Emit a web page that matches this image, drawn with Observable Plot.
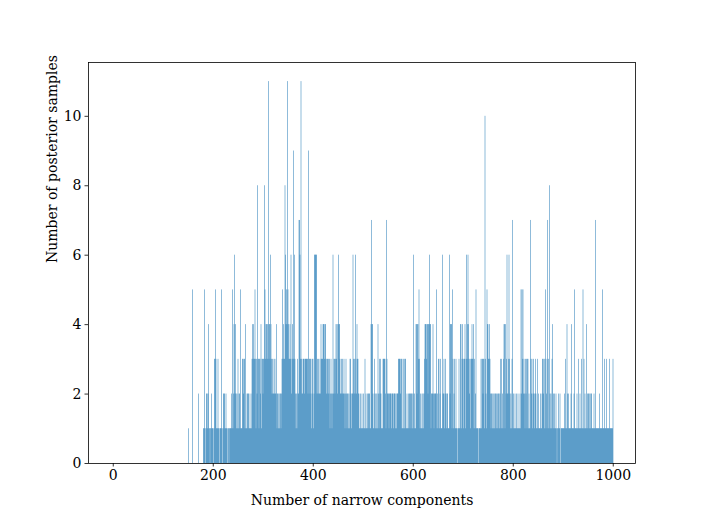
<!DOCTYPE html>
<html>
<head>
<meta charset="utf-8">
<script src="https://cdn.jsdelivr.net/npm/d3@7"></script>
<script src="https://cdn.jsdelivr.net/npm/@observablehq/plot@0.6"></script>
<style>
  html, body { margin: 0; padding: 0; background: #fff; }
  #chart { width: 706px; height: 520px; }
</style>
</head>
<body>
<div id="chart"></div>
<script>
// Histogram: number of posterior samples per number of narrow components (values 150..1000)
const firstValue = 150;
const counts = [
  0,1,0,0,0,0,0,0,0,5,   // 150
  0,0,0,0,0,0,0,0,0,0,   // 160
  0,2,0,0,0,0,0,0,0,0,   // 170
  0,1,1,5,1,0,1,2,2,1,   // 180
  2,4,1,1,0,1,1,2,1,1,   // 190
  1,0,1,3,3,5,3,1,1,1,   // 200
  3,1,1,0,1,1,1,5,1,0,   // 210
  1,2,2,2,1,1,2,1,1,0,   // 220
  1,1,0,1,1,1,1,2,1,5,   // 230
  1,2,4,6,2,4,2,1,2,1,   // 240
  3,1,2,2,1,5,1,1,1,3,   // 250
  3,2,3,3,1,4,1,1,2,2,   // 260
  1,2,2,1,1,1,2,1,3,4,   // 270
  3,4,3,3,5,3,1,3,2,8,   // 280
  3,3,1,3,3,2,4,1,3,3,   // 290
  2,3,3,8,5,3,4,4,3,4,   // 300
  3,11,4,4,3,6,4,3,2,3,  // 310
  2,2,3,2,3,2,2,4,1,2,   // 320
  2,1,2,1,2,2,1,2,3,5,   // 330
  3,4,3,3,8,6,4,5,4,11,  // 340
  5,4,3,3,4,3,6,2,3,4,   // 350
  3,9,3,6,3,2,1,2,1,3,   // 360
  2,2,7,7,6,3,11,3,2,2,  // 370
  3,3,3,2,3,3,3,3,3,3,   // 380
  2,9,3,3,2,3,3,1,2,3,   // 390
  3,1,2,6,6,6,6,6,2,3,   // 400
  2,3,2,2,3,2,4,3,3,3,   // 410
  4,4,4,3,4,4,3,2,3,3,   // 420
  2,3,2,3,1,2,3,2,1,2,   // 430
  6,2,3,3,2,3,4,3,4,2,   // 440
  4,6,4,4,3,2,2,3,2,3,   // 450
  2,2,3,2,1,2,3,2,1,2,   // 460
  2,1,2,1,3,3,2,1,2,2,   // 470
  6,3,2,3,2,6,3,2,4,3,   // 480
  3,2,2,1,1,2,1,1,2,1,   // 490
  1,2,1,1,3,1,2,1,1,2,   // 500
  1,2,2,2,1,1,4,7,4,4,   // 510
  2,1,1,3,2,1,2,1,2,1,   // 520
  4,2,1,3,2,3,2,1,1,1,   // 530
  3,3,3,3,3,2,1,7,3,2,   // 540
  2,2,1,2,2,2,2,1,2,2,   // 550
  2,1,2,2,2,1,2,1,2,2,   // 560
  2,3,3,3,3,2,3,3,1,1,   // 570
  3,1,3,1,3,3,1,1,2,1,   // 580
  1,2,1,2,2,2,1,2,2,1,   // 590
  2,6,1,2,1,1,4,4,2,4,   // 600
  4,3,5,3,1,2,1,1,2,1,   // 610
  2,1,2,3,4,4,4,3,4,4,   // 620
  2,4,4,6,4,4,1,2,2,2,   // 630
  4,2,1,2,2,2,2,5,1,2,   // 640
  1,3,3,1,2,3,1,1,1,6,   // 650
  2,2,3,1,2,3,2,1,2,2,   // 660
  1,1,1,6,2,4,4,4,1,5,   // 670
  3,1,2,3,1,1,3,1,1,0,   // 680
  1,1,3,1,1,4,4,1,3,4,   // 690
  3,1,3,3,4,1,3,6,3,4,   // 700
  6,4,3,2,3,1,3,3,4,3,   // 710
  3,4,1,3,1,2,5,1,1,1,   // 720
  1,0,1,1,1,1,3,1,3,3,   // 730
  2,3,3,1,10,3,2,1,5,4,  // 740
  4,3,3,4,3,2,1,2,2,1,   // 750
  2,1,2,1,2,2,1,2,1,2,   // 760
  1,2,2,1,2,3,1,3,1,2,   // 770
  1,3,4,4,1,4,2,3,6,2,   // 780
  2,3,6,3,2,1,2,1,3,7,   // 790
  1,2,1,1,2,1,1,2,1,1,   // 800
  2,1,1,1,2,1,5,2,5,3,   // 810
  5,2,3,2,1,3,2,3,1,3,   // 820
  3,1,2,1,1,7,3,2,3,1,   // 830
  2,3,2,1,2,3,2,1,1,3,   // 840
  1,2,1,1,1,2,1,1,2,3,   // 850
  3,2,3,1,3,5,1,2,3,7,   // 860
  1,3,1,8,2,1,2,1,3,4,   // 870
  1,2,1,2,1,1,2,1,0,1,   // 880
  1,2,1,1,2,0,1,1,1,1,   // 890
  1,1,1,2,1,3,1,1,4,2,   // 900
  1,2,1,1,1,1,2,4,1,1,   // 910
  1,1,2,5,1,1,1,1,2,1,   // 920
  1,3,1,1,2,1,1,3,1,1,   // 930
  5,1,3,1,2,1,1,4,1,2,   // 940
  1,2,2,1,2,1,2,2,1,1,   // 950
  1,1,2,1,1,7,1,1,1,1,   // 960
  1,1,1,2,1,1,1,1,1,5,   // 970
  1,1,1,3,1,1,1,3,1,1,   // 980
  1,1,1,3,1,1,1,1,1,1,   // 990
  3                      // 1000
];
const xTicks = [0, 200, 400, 600, 800, 1000];
const yTicks = [0, 2, 4, 6, 8, 10];
const xLabel = "Number of narrow components";
const yLabel = "Number of posterior samples";

const rows = counts
  .map((c, i) => ({v: firstValue + i, c}))
  .filter(d => d.c > 0);

const font = "DejaVu Serif";

const chart = Plot.plot({
  width: 706,
  height: 520,
  marginLeft: 88,
  marginRight: 71,
  marginTop: 62,
  marginBottom: 57,
  style: {fontFamily: font, fontSize: "14px", color: "black", background: "white"},
  x: {domain: [-49.5, 1044.5]},
  y: {domain: [0, 11.55]},
  marks: [
    Plot.rectY(rows, {
      x1: "v",
      x2: d => d.v + 1,
      y: "c",
      fill: "#1f77b4",
      fillOpacity: 1,
      shapeRendering: "geometricPrecision"
    }),
    Plot.frame({stroke: "black", strokeWidth: 0.8}),
    Plot.axisX({ticks: xTicks, tickSize: 3.5, tickPadding: 3.5, tickFormat: d => String(d), label: null, fontSize: 14, strokeWidth: 0.8}),
    Plot.axisY({ticks: yTicks, tickSize: 3.5, tickPadding: 3.5, tickFormat: d => String(d), label: null, fontSize: 14, strokeWidth: 0.8}),
    Plot.text([xLabel], {frameAnchor: "bottom", text: d => d, dy: 32, lineAnchor: "top", fontSize: 14}),
    Plot.text([yLabel], {frameAnchor: "left", text: d => d, dx: -32, rotate: -90, lineAnchor: "bottom", fontSize: 14})
  ]
});

document.getElementById("chart").appendChild(chart);
</script>
</body>
</html>
